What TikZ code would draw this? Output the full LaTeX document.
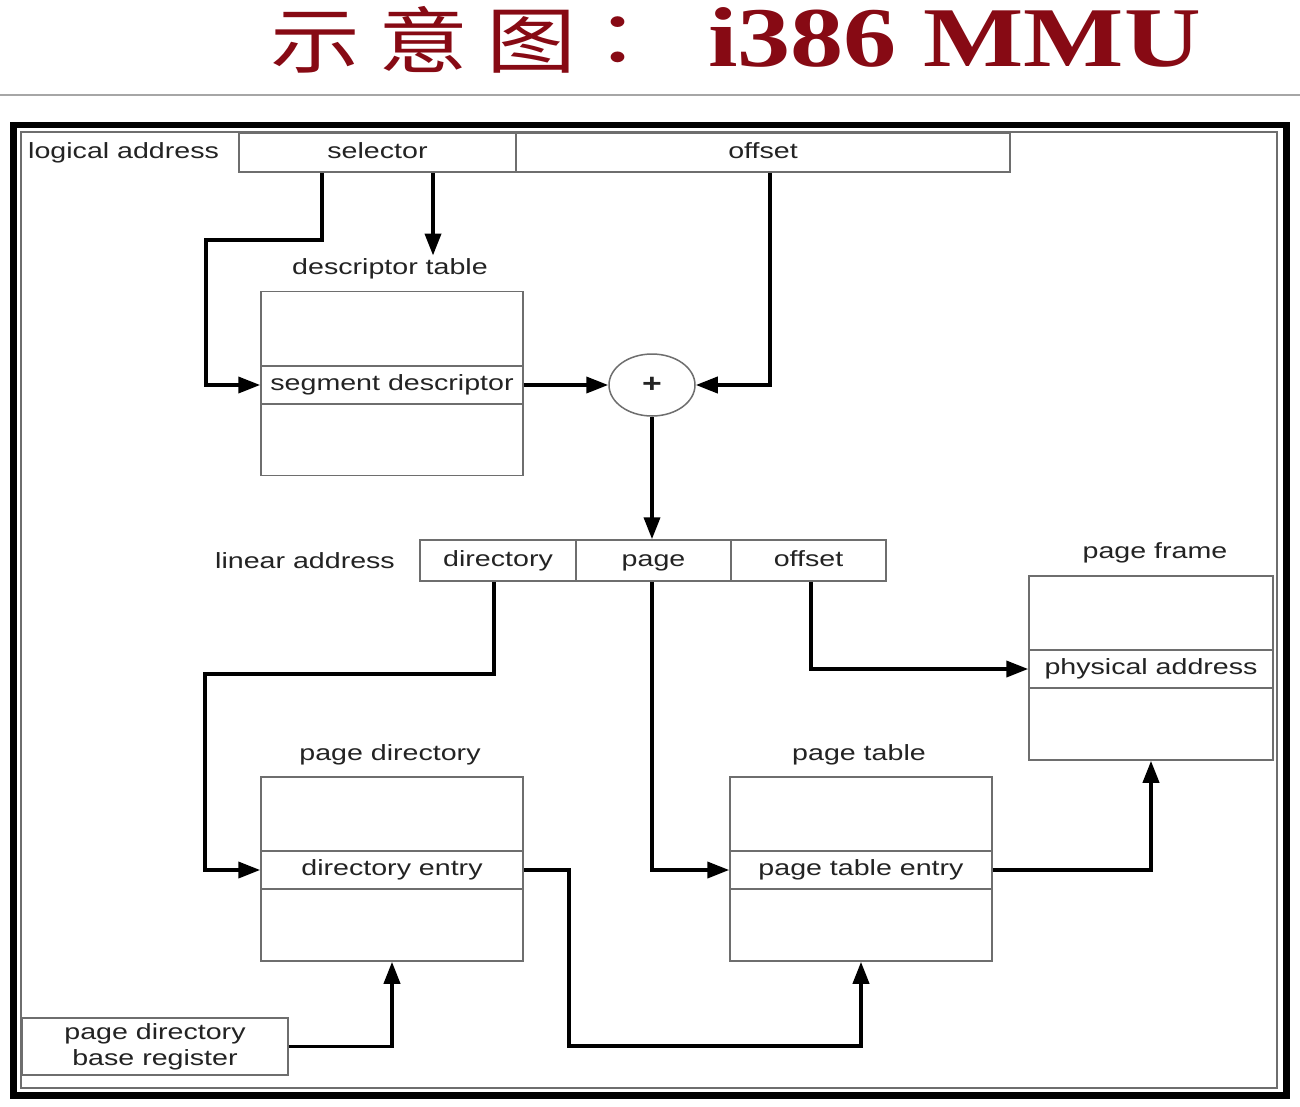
\documentclass[tikz,border=0pt]{standalone}
\usepackage{fontspec}
\setmainfont{Liberation Sans}[FakeStretch=1.3]
\newfontfamily\titlecjk{Noto Sans CJK SC}[FakeStretch=1.25]
\newfontfamily\titlelatin{Liberation Serif}[FakeStretch=1.25]
\usetikzlibrary{arrows.meta,shapes.geometric}
\definecolor{titlered}{RGB}{135,10,20}
\definecolor{boxgray}{RGB}{110,110,110}
\definecolor{inkgray}{RGB}{35,35,35}
\newcommand{\lblfont}{\fontsize{22}{26}\selectfont}

\begin{document}
\begin{tikzpicture}[x=1pt,y=-1pt,
  lbl/.style={font=\lblfont, text=inkgray, inner sep=0pt},
  field/.style={draw=boxgray, line width=1.5pt, fill=white, minimum height=39pt,
    inner sep=0pt, font=\lblfont, text=inkgray, text height=16pt, text depth=5pt},
  memtable/.style={draw=boxgray, line width=1.5pt, fill=white, minimum width=262pt,
    minimum height=184pt, inner sep=0pt},
  entry/.style={draw=boxgray, line width=1.5pt, minimum width=262pt, minimum height=38pt,
    inner sep=0pt, font=\lblfont, text=inkgray, text height=16pt, text depth=5pt},
  conn/.style={line width=3.8pt, black, line join=miter},
  arr/.style={conn, -{Triangle[length=22pt,width=16pt]}},
]
% page and bounding box
\fill[white] (0,0) rectangle (1300,1106);
\useasboundingbox (0,0) rectangle (1300,1106);

% title
\node[anchor=west, text=titlered, font=\titlecjk\fontsize{72}{72}\selectfont, inner sep=0pt]
  (tcn) at (270,40) {示\hspace{18pt}意\hspace{18pt}图};
\node[text=titlered, font=\titlecjk\fontsize{72}{72}\selectfont, inner sep=0pt]
  (tcolon) at (640,40) {：};
\node[anchor=base west, text=titlered, font=\titlelatin\bfseries\fontsize{85}{85}\selectfont, inner sep=0pt]
  (tlat) at (708,66) {i386 MMU};
\draw[gray!70, line width=2.5pt] (0,95) -- (1300,95);

% frame
\draw[line width=6.5pt] (13.5,125) rectangle (1286.5,1095.5);
\draw[boxgray, line width=1.5pt] (21,132) rectangle (1277,1088);

% logical address
\node[lbl, anchor=west] (lalbl) at (28,153) {logical address};
\node[field, minimum width=277pt] (sel) at (377.5,152.5) {selector};
\node[field, minimum width=494pt] (off) at (763,152.5) {offset};

% descriptor table
\node[lbl] (dtlbl) at (390,269) {descriptor table};
\node[memtable] (dtab) at (392,383.5) {};
\node[entry] (segdesc) at (392,385) {segment descriptor};

% adder
\node[draw=boxgray, line width=1.5pt, ellipse, fill=white, minimum width=86pt,
  minimum height=62pt, inner sep=0pt, font=\bfseries\fontsize{26}{26}\selectfont, text=inkgray]
  (plus) at (652,385) {+};

% linear address
\node[lbl, anchor=west] (linlbl) at (215,561) {linear address};
\node[field, minimum width=156pt, minimum height=41pt] (dir) at (498,560.5) {directory};
\node[field, minimum width=155pt, minimum height=41pt] (pg) at (653.5,560.5) {page};
\node[field, minimum width=155pt, minimum height=41pt] (loff) at (808.5,560.5) {offset};

% page frame
\node[lbl] (pflbl) at (1155,553) {page frame};
\node[memtable, minimum width=244pt] (pframe) at (1151,668) {};
\node[entry, minimum width=244pt] (phys) at (1151,669) {physical address};

% page directory
\node[lbl] (pdlbl) at (390,755) {page directory};
\node[memtable] (pdir) at (392,869) {};
\node[entry] (direntry) at (392,870) {directory entry};

% page table
\node[lbl] (ptlbl) at (859,755) {page table};
\node[memtable] (ptab) at (861,869) {};
\node[entry] (pte) at (861,870) {page table entry};

% page directory base register
\node[draw=boxgray, line width=1.5pt, fill=white, minimum width=266pt, minimum height=57pt,
  inner sep=0pt, font=\lblfont, text=inkgray, align=center] (pdbr) at (155,1046.5)
  {page directory\\base register};

% connectors
\draw[arr] (322,0 |- sel.south) |- (206,240) |- (segdesc.west);
\draw[arr] (433,0 |- sel.south) -- ([yshift=3pt]433,0 |- dtlbl.north);
\draw[arr] (segdesc.east) -- (plus.west);
\draw[arr] (770,0 |- off.south) |- (plus.east);
\draw[arr] (plus.south) -- (plus.south |- pg.north);
\draw[arr] (494,0 |- dir.south) |- (205,674) |- (direntry.west);
\draw[arr] (652,0 |- pg.south) |- (pte.west);
\draw[arr] (811,0 |- loff.south) |- (phys.west);
\draw[arr] (pte.east) -| (pframe.south);
\draw[arr] (direntry.east) -| (569,1046) -| (ptab.south);
\draw[arr] (pdbr.east) -| (pdir.south);
\end{tikzpicture}
\end{document}
